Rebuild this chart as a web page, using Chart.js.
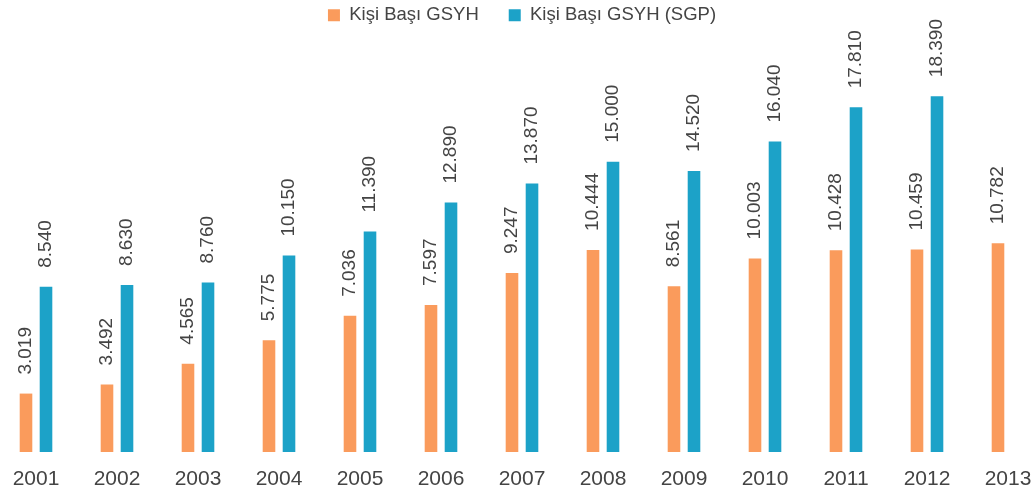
<!DOCTYPE html>
<html>
<head>
<meta charset="utf-8">
<script src="https://cdn.jsdelivr.net/npm/chart.js@4"></script>
<style>
html,body{margin:0;padding:0;background:#fff;}
#wrap{width:1033px;height:495px;position:relative;}
</style>
</head>
<body>
<div id="wrap"><canvas id="c" width="1033" height="495"></canvas></div>
<script>
const categories = ['2001','2002','2003','2004','2005','2006','2007','2008','2009','2010','2011','2012','2013'];
const gsyh = [3019, 3492, 4565, 5775, 7036, 7597, 9247, 10444, 8561, 10003, 10428, 10459, 10782];
const gsyhSGP = [8540, 8630, 8760, 10150, 11390, 12890, 13870, 15000, 14520, 16040, 17810, 18390, null];
const seriesNames = ['Kişi Başı GSYH', 'Kişi Başı GSYH (SGP)'];

const fmt = v => v.toLocaleString('de-DE');

const valueLabels = {
  id: 'valueLabels',
  afterDatasetsDraw(chart){
    const ctx = chart.ctx;
    ctx.save();
    ctx.font = '19px "Liberation Sans", Arial, sans-serif';
    ctx.fillStyle = '#444';
    ctx.textAlign = 'left';
    ctx.textBaseline = 'middle';
    chart.data.datasets.forEach((ds, i) => {
      const meta = chart.getDatasetMeta(i);
      meta.data.forEach((bar, j) => {
        const v = ds.data[j];
        if (v == null) return;
        ctx.save();
        ctx.translate(bar.x, bar.y - 19);
        ctx.rotate(-Math.PI / 2);
        ctx.fillText(fmt(v), 0, 0);
        ctx.restore();
      });
    });
    ctx.restore();
  }
};

new Chart(document.getElementById('c'), {
  type: 'bar',
  data: {
    labels: categories,
    datasets: [
      { label: seriesNames[0], data: gsyh, backgroundColor: '#FA9B5C', categoryPercentage: 0.494, barPercentage: 0.63, clip: false },
      { label: seriesNames[1], data: gsyhSGP, backgroundColor: '#1CA2C8', categoryPercentage: 0.494, barPercentage: 0.63, clip: false }
    ]
  },
  options: {
    responsive: false,
    animation: false,
    events: [],
    layout: { padding: { left: 36, right: 25, top: -24, bottom: 0 } },
    plugins: {
      legend: {
        position: 'top',
        labels: {
          boxWidth: 12, boxHeight: 12, padding: 30,
          color: '#444',
          font: { family: '"Liberation Sans", Arial, sans-serif', size: 18.5 }
        }
      },
      tooltip: { enabled: false }
    },
    scales: {
      x: {
        offset: false,
        grid: { display: false },
        border: { display: false },
        ticks: {
          padding: 7,
          maxRotation: 0,
          autoSkip: false,
          color: '#444',
          font: { family: '"Liberation Sans", Arial, sans-serif', size: 21 }
        },
        afterFit(s){ s.paddingLeft = 0; s.paddingRight = 0; s.height = 43; }
      },
      y: {
        display: false,
        min: 0,
        max: 21575
      }
    }
  },
  plugins: [valueLabels]
});
</script>
</body>
</html>
